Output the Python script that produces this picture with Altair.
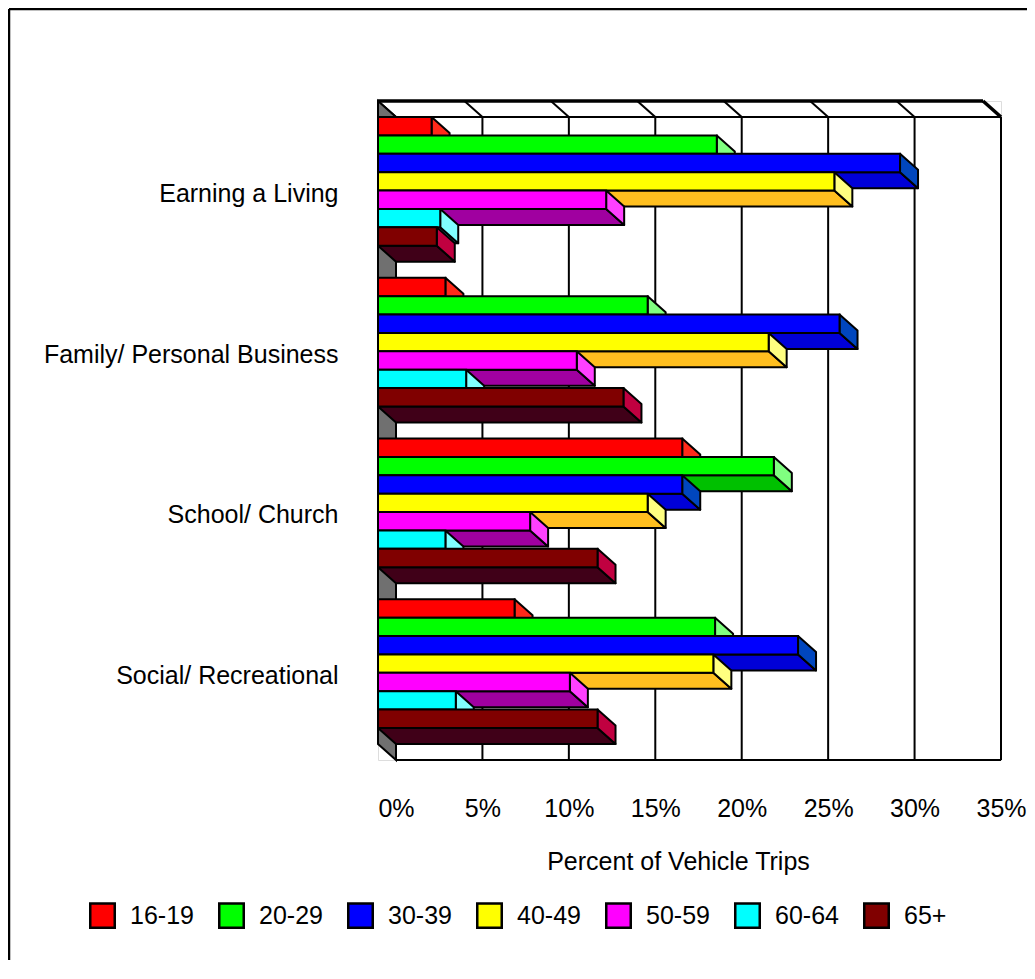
import altair as alt
import pandas as pd

# ---------------- data ----------------
categories = ["Earning a Living", "Family/ Personal Business", "School/ Church", "Social/ Recreational"]
age_groups = ["16-19", "20-29", "30-39", "40-49", "50-59", "60-64", "65+"]
earning_a_living = [3.1, 19.6, 30.2, 26.4, 13.2, 3.6, 3.4]
family_personal_business = [3.9, 15.6, 26.7, 22.6, 11.5, 5.1, 14.2]
school_church = [17.6, 22.9, 17.6, 15.6, 8.8, 3.9, 12.7]
social_recreational = [7.9, 19.5, 24.3, 19.4, 11.1, 4.5, 12.7]
x_ticks = [0, 5, 10, 15, 20, 25, 30, 35]

# ---------------- styles ----------------
front_colors = ["#FF0000", "#00FF00", "#0000FF", "#FFFF00", "#FF00FF", "#00FFFF", "#800000"]
side_colors = ["#FF2A1A", "#80FF80", "#0046BE", "#FFFF80", "#FF40FF", "#80FFFF", "#C00040"]
bottom_colors = ["#C00000", "#00C000", "#0000D8", "#FFBF1F", "#A000A0", "#00B0B0", "#400018"]
floor_color = "#707070"
FONT = "Liberation Sans"
FS = 25

series_by_category = [earning_a_living, family_personal_business, school_church, social_recreational]
rows = []
for ci, (cat, vals) in enumerate(zip(categories, series_by_category)):
    for si, (grp, v) in enumerate(zip(age_groups, vals)):
        rows.append({"category": cat, "group": grp, "value": v, "ci": ci, "si": si, "bid": f"{ci}{si}"})
df = pd.DataFrame(rows)

# ---------------- layout ----------------
W, H = 605, 643          # front plane size (px)
DX, DY = 18, 16          # 3-D depth (px)
X_MAX = x_ticks[-1]
NCAT = len(categories)
DDX = X_MAX * DX / W     # depth in data units
DDY = NCAT * DY / H
PAD = 0.1
BH = (1 - 2 * PAD) / len(age_groups)
PADDING = {"left": 370, "top": 93, "right": 26, "bottom": 200}

xs = alt.Scale(domain=[0, X_MAX + DDX], nice=False, zero=False)
ys = alt.Scale(domain=[0, NCAT + DDY], nice=False, zero=False, reverse=True)

cat_expr = "[" + ",".join(f"'{c}'" for c in categories) + "][floor(datum.value)]"

X_AXIS = alt.Axis(
    values=x_ticks, labelExpr="datum.value + '%'", tickOffset=DX, grid=False, domain=False,
    ticks=False, tickSize=0, labelPadding=48, labelBaseline="middle", labelFontSize=FS,
    labelColor="black", labelFont=FONT, labelFlush=False, labelOverlap=False,
    title="Percent of Vehicle Trips", titleFontSize=FS, titleFontWeight="normal",
    titleColor="black", titleFont=FONT, titleX=300, titleY=101, titleAlign="center",
    titleBaseline="middle")
Y_AXIS = alt.Axis(
    values=[i + 0.5 for i in range(NCAT)], labelExpr=cat_expr, tickOffset=12, grid=False,
    domain=False, ticks=False, tickSize=0, labelPadding=40, labelBaseline="middle",
    labelFontSize=FS, labelColor="black", labelFont=FONT, labelLimit=0, title=None)


def X(field):
    return alt.X(field, scale=xs, axis=X_AXIS)


def Y(field):
    return alt.Y(field, scale=ys, axis=Y_AXIS)


def col_expr(colors):
    return "[" + ",".join(f"'{c}'" for c in colors) + "][datum.si]"


bars = alt.Chart(df).transform_calculate(
    top=f"datum.ci + {PAD} + datum.si * {BH}",
    x0="0",
    sidecol=col_expr(side_colors),
    botcol=col_expr(bottom_colors),
).transform_calculate(bot=f"datum.top + {BH}")

two = bars.transform_calculate(j="[0, 1]").transform_flatten(["j"])

# bottom faces
bottom = two.transform_calculate(
    bx0=f"datum.j * {DDX}",
    bx1=f"datum.value + datum.j * {DDX}",
    by=f"datum.bot + datum.j * {DDY}",
).mark_area(orient="horizontal", stroke="black", strokeWidth=2, strokeJoin="round").encode(
    y=Y("by:Q"), x=X("bx0:Q"), x2="bx1:Q",
    fill=alt.Fill("botcol:N", scale=None),
    detail="bid:N",
)

# side faces
side = two.transform_calculate(
    sx=f"datum.value + datum.j * {DDX}",
    syt=f"datum.top + datum.j * {DDY}",
    syb=f"datum.bot + datum.j * {DDY}",
).mark_area(orient="vertical", stroke="black", strokeWidth=2, strokeJoin="round").encode(
    x=X("sx:Q"), y=Y("syt:Q"), y2="syb:Q",
    fill=alt.Fill("sidecol:N", scale=None),
    detail="bid:N",
)

# front faces (with legend)
front = bars.mark_rect(stroke="black", strokeWidth=2).encode(
    x=X("x0:Q"), x2="value:Q",
    y=Y("top:Q"), y2="bot:Q",
    fill=alt.Fill("group:N", scale=alt.Scale(domain=age_groups, range=front_colors),
                  legend=alt.Legend(title=None, orient="none", legendX=-289, legendY=801,
                                    direction="horizontal", symbolType="square", symbolSize=600,
                                    symbolStrokeColor="black", symbolStrokeWidth=2.5,
                                    labelFontSize=FS, labelFont=FONT, labelColor="black",
                                    labelOffset=14, columnPadding=20, padding=0, labelLimit=0)),
)

# ---------------- walls ----------------
ticks_df = pd.DataFrame({"t": x_ticks})
walls = alt.Chart(ticks_df)
grid = walls.transform_calculate(
    gx=f"datum.t + {DDX}", gy0=f"{DDY}", gy1=f"{NCAT + DDY}"
).mark_rule(stroke="black", strokeWidth=2).encode(
    x=X("gx:Q"), y=Y("gy0:Q"), y2="gy1:Q")

slant = walls.transform_calculate(
    sx1=f"datum.t + {DDX}", sy0="0", sy1=f"{DDY}",
    sw=f"datum.t == {X_MAX} ? 3.5 : 2",
).mark_rule(stroke="black").encode(
    x=X("t:Q"), x2="sx1:Q", y=Y("sy0:Q"), y2="sy1:Q",
    strokeWidth=alt.StrokeWidth("sw:Q", scale=None))

frame_df = pd.DataFrame({"a": [x_ticks[0]], "b": [x_ticks[-1]]})
frame = alt.Chart(frame_df)
back_edges = frame.transform_calculate(
    ea=f"datum.a + {DDX}", eb=f"datum.b + {DDX}", yy=f"[{DDY}, {NCAT + DDY}]"
).transform_flatten(["yy"]).mark_rule(stroke="black", strokeWidth=2).encode(
    x=X("ea:Q"), x2="eb:Q", y=Y("yy:Q"))

front_top = frame.transform_calculate(y0="0").mark_rule(stroke="black", strokeWidth=3.5).encode(
    x=X("a:Q"), x2="b:Q", y=Y("y0:Q"))

floor = alt.Chart(pd.DataFrame({"j": [0, 1]})).transform_calculate(
    fx=f"datum.j * {DDX}", fy0=f"datum.j * {DDY}", fy1=f"{NCAT} + datum.j * {DDY}"
).mark_area(orient="vertical", fill=floor_color, stroke="black", strokeWidth=2).encode(
    x=X("fx:Q"), y=Y("fy0:Q"), y2="fy1:Q")

# outer chart frame: only its left and top edges are inside the picture
right_edge = W + DX + PADDING["right"]
bottom_edge = H + DY + PADDING["bottom"]
border_top = frame.mark_rule(stroke="black", strokeWidth=2.5).encode(
    x=alt.value(-PADDING["left"] + 1), x2=alt.value(right_edge), y=alt.value(-PADDING["top"] + 1))
border_left = frame.mark_rule(stroke="black", strokeWidth=2.5).encode(
    x=alt.value(-PADDING["left"] + 1), y=alt.value(-PADDING["top"] + 1), y2=alt.value(bottom_edge))

chart = alt.layer(
    border_top, border_left, grid, back_edges, slant, floor, front_top, bottom, side, front
).properties(
    width=W + DX, height=H + DY,
    padding=PADDING,
    autosize=alt.AutoSizeParams(type="none"),
).configure_view(stroke=None).configure(font=FONT)

chart.save("out.html", embed_options={"renderer": "svg", "actions": False})
